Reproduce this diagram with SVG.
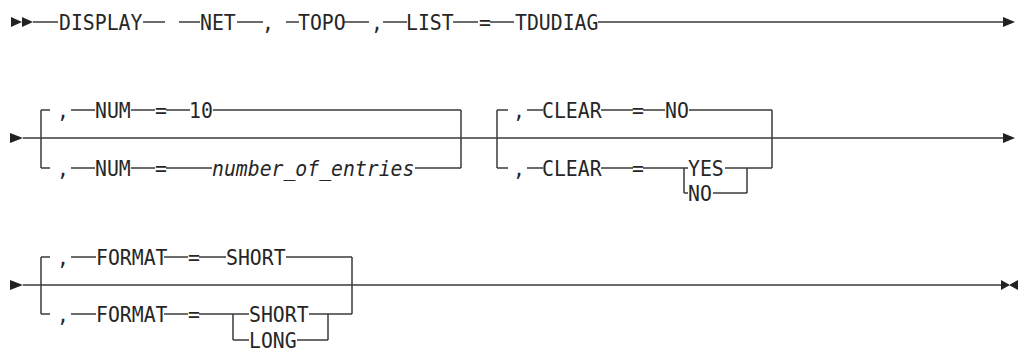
<svg xmlns="http://www.w3.org/2000/svg" width="1018" height="352" viewBox="0 0 1018 352">
<style>
text{font-family:"DejaVu Sans Mono","Liberation Mono",monospace;font-size:22px;fill:#262626}
.it{font-style:italic}
.c line{stroke:#3a3a3a;stroke-width:1.5;fill:none}
.ah{fill:#222;stroke:none}
</style>
<rect width="1018" height="352" fill="#fff"/>
<g id="connectors" class="c">
<line x1="33" y1="22" x2="58" y2="22"/>
<line x1="143" y1="22" x2="165" y2="22"/>
<line x1="179" y1="22" x2="200" y2="22"/>
<line x1="237" y1="22" x2="263" y2="22"/>
<line x1="286" y1="22" x2="299" y2="22"/>
<line x1="344" y1="22" x2="369" y2="22"/>
<line x1="383" y1="22" x2="407" y2="22"/>
<line x1="453" y1="22" x2="478" y2="22"/>
<line x1="490" y1="22" x2="514" y2="22"/>
<line x1="598" y1="22" x2="1004" y2="22"/>
<line x1="23" y1="138" x2="1004" y2="138"/>
<line x1="41" y1="110" x2="41" y2="168"/>
<line x1="41" y1="110" x2="50" y2="110"/>
<line x1="71" y1="110" x2="95" y2="110"/>
<line x1="131" y1="110" x2="155" y2="110"/>
<line x1="166" y1="110" x2="190" y2="110"/>
<line x1="213" y1="110" x2="461" y2="110"/>
<line x1="41" y1="168" x2="50" y2="168"/>
<line x1="71" y1="168" x2="95" y2="168"/>
<line x1="131" y1="168" x2="155" y2="168"/>
<line x1="166" y1="168" x2="212" y2="168"/>
<line x1="415" y1="168" x2="461" y2="168"/>
<line x1="461" y1="110" x2="461" y2="168"/>
<line x1="497" y1="110" x2="497" y2="168"/>
<line x1="497" y1="110" x2="508" y2="110"/>
<line x1="527" y1="110" x2="543" y2="110"/>
<line x1="601" y1="110" x2="633" y2="110"/>
<line x1="643" y1="110" x2="665" y2="110"/>
<line x1="689" y1="110" x2="772" y2="110"/>
<line x1="497" y1="168" x2="508" y2="168"/>
<line x1="527" y1="168" x2="543" y2="168"/>
<line x1="601" y1="168" x2="633" y2="168"/>
<line x1="643" y1="168" x2="688" y2="168"/>
<line x1="684" y1="168" x2="684" y2="193"/>
<line x1="684" y1="193" x2="688" y2="193"/>
<line x1="725" y1="168" x2="772" y2="168"/>
<line x1="713" y1="193" x2="747" y2="193"/>
<line x1="747" y1="168" x2="747" y2="193"/>
<line x1="772" y1="110" x2="772" y2="168"/>
<line x1="23" y1="285" x2="1002" y2="285"/>
<line x1="41" y1="257" x2="41" y2="314"/>
<line x1="41" y1="257" x2="50" y2="257"/>
<line x1="71" y1="257" x2="96" y2="257"/>
<line x1="164" y1="257" x2="188" y2="257"/>
<line x1="199" y1="257" x2="226" y2="257"/>
<line x1="286" y1="257" x2="352" y2="257"/>
<line x1="41" y1="314" x2="50" y2="314"/>
<line x1="71" y1="314" x2="96" y2="314"/>
<line x1="164" y1="314" x2="188" y2="314"/>
<line x1="199" y1="314" x2="249" y2="314"/>
<line x1="233" y1="314" x2="233" y2="340"/>
<line x1="233" y1="340" x2="249" y2="340"/>
<line x1="309" y1="314" x2="352" y2="314"/>
<line x1="297" y1="340" x2="328" y2="340"/>
<line x1="328" y1="314" x2="328" y2="340"/>
<line x1="352" y1="257" x2="352" y2="314"/>
<path class="ah" d="M11,17 L22,22 L11,27 Z M22,17 L33,22 L22,27 Z"/>
<path class="ah" d="M1003,17 L1015,22 L1003,27 Z"/>
<path class="ah" d="M10,133 L23,138 L10,143 Z"/>
<path class="ah" d="M1003,133 L1015,138 L1003,143 Z"/>
<path class="ah" d="M10,280 L23,285 L10,290 Z"/>
<path class="ah" d="M1001,280 L1010,285 L1001,290 Z M1018,280 L1009,285 L1018,290 Z"/>
</g>
<g id="row1">
<g id="display"><text transform="translate(59 30) scale(.9 1)">DISPLAY</text></g>
<g id="net"><text transform="translate(200 30) scale(.9 1)">NET</text></g>
<g id="comma1"><text transform="translate(262 30) scale(.9 1)">,</text></g>
<g id="topo"><text transform="translate(298 30) scale(.9 1)">TOPO</text></g>
<g id="comma2"><text transform="translate(371 30) scale(.9 1)">,</text></g>
<g id="list"><text transform="translate(406 30) scale(.9 1)">LIST</text></g>
<g id="eq1"><text transform="translate(479 30) scale(.9 1)">=</text></g>
<g id="tdudiag"><text transform="translate(515 30) scale(.9 1)">TDUDIAG</text></g>
</g>
<g id="row2">
<g id="num-default"><text transform="translate(57 118) scale(.9 1)">,</text><text transform="translate(95 118) scale(.9 1)">NUM</text><text transform="translate(155 118) scale(.9 1)">=</text><text transform="translate(189 118) scale(.9 1)">10</text></g>
<g id="num-entries"><text transform="translate(57 176) scale(.9 1)">,</text><text transform="translate(95 176) scale(.9 1)">NUM</text><text transform="translate(155 176) scale(.9 1)">=</text><text class="it" transform="translate(212 176) scale(.9 1)">number_of_entries</text></g>
<g id="clear-default"><text transform="translate(513 118) scale(.9 1)">,</text><text transform="translate(542 118) scale(.9 1)">CLEAR</text><text transform="translate(632 118) scale(.9 1)">=</text><text transform="translate(665 118) scale(.9 1)">NO</text></g>
<g id="clear-choice"><text transform="translate(513 176) scale(.9 1)">,</text><text transform="translate(542 176) scale(.9 1)">CLEAR</text><text transform="translate(632 176) scale(.9 1)">=</text></g>
<g id="clear-yes"><text transform="translate(688 176) scale(.9 1)">YES</text></g>
<g id="clear-no"><text transform="translate(688 201) scale(.9 1)">NO</text></g>
</g>
<g id="row3">
<g id="format-default"><text transform="translate(57 265) scale(.9 1)">,</text><text transform="translate(96 265) scale(.9 1)">FORMAT</text><text transform="translate(188 265) scale(.9 1)">=</text><text transform="translate(226 265) scale(.9 1)">SHORT</text></g>
<g id="format-choice"><text transform="translate(57 322) scale(.9 1)">,</text><text transform="translate(96 322) scale(.9 1)">FORMAT</text><text transform="translate(188 322) scale(.9 1)">=</text></g>
<g id="format-short"><text transform="translate(249 322) scale(.9 1)">SHORT</text></g>
<g id="format-long"><text transform="translate(249 348) scale(.9 1)">LONG</text></g>
</g>
</svg>
